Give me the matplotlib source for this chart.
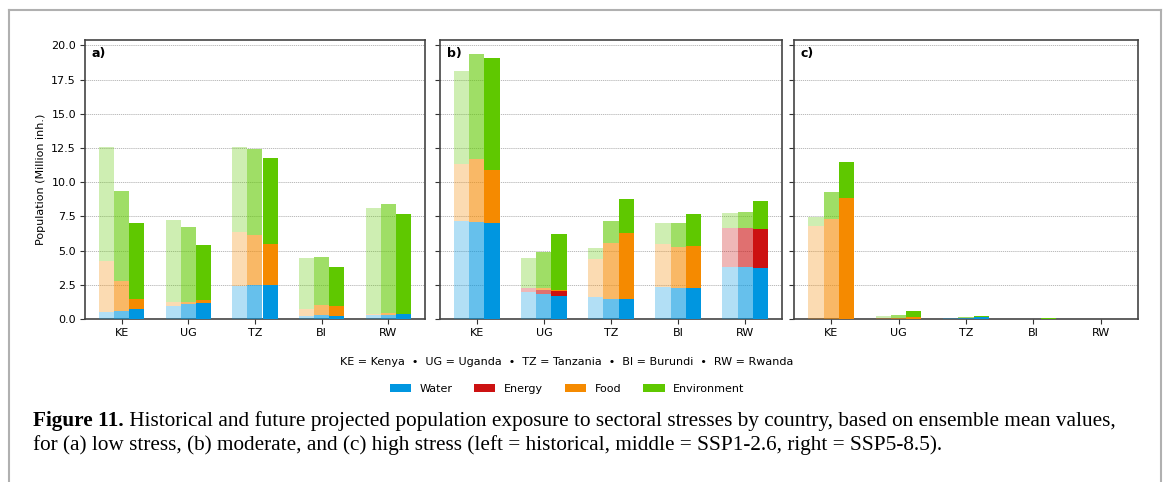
import matplotlib
matplotlib.use("Agg")
import matplotlib.pyplot as plt
import numpy as np
from matplotlib.patches import Patch
from matplotlib.lines import Line2D

countries = ["KE", "UG", "TZ", "BI", "RW"]
sectors = ["Water", "Energy", "Food", "Environment"]
scenarios = ["historical", "SSP1-2.6", "SSP5-8.5"]
panel_labels = ["a)", "b)", "c)"]
yticks = [0.0, 2.5, 5.0, 7.5, 10.0, 12.5, 15.0, 17.5, 20.0]

# segment heights (Million inh.), per country KE, UG, TZ, BI, RW
# ---- (a) low stress
a_hist_water = [0.54, 0.97, 2.39, 0.22, 0.29]
a_hist_energy = [0.0, 0.0, 0.0, 0.0, 0.0]
a_hist_food = [3.72, 0.27, 3.99, 0.54, 0.10]
a_hist_env = [8.29, 6.02, 6.17, 3.67, 7.75]
a_ssp1_water = [0.58, 1.12, 2.51, 0.29, 0.32]
a_ssp1_energy = [0.0, 0.0, 0.0, 0.0, 0.0]
a_ssp1_food = [2.17, 0.15, 3.60, 0.71, 0.09]
a_ssp1_env = [6.63, 5.43, 6.29, 3.50, 7.99]
a_ssp5_water = [0.71, 1.19, 2.51, 0.24, 0.39]
a_ssp5_energy = [0.0, 0.0, 0.0, 0.0, 0.0]
a_ssp5_food = [0.78, 0.22, 2.99, 0.71, 0.0]
a_ssp5_env = [5.55, 4.00, 6.27, 2.85, 7.31]
# ---- (b) moderate stress
b_hist_water = [7.14, 2.00, 1.61, 2.34, 3.80]
b_hist_energy = [0.0, 0.28, 0.0, 0.0, 2.87]
b_hist_food = [4.19, 0.0, 2.80, 3.14, 0.0]
b_hist_env = [6.77, 2.20, 0.80, 1.56, 1.08]
b_ssp1_water = [7.09, 1.80, 1.49, 2.24, 3.78]
b_ssp1_energy = [0.0, 0.34, 0.0, 0.0, 2.87]
b_ssp1_food = [4.58, 0.13, 4.09, 3.00, 0.0]
b_ssp1_env = [7.72, 2.65, 1.58, 1.78, 1.15]
b_ssp5_water = [7.02, 1.71, 1.46, 2.29, 3.73]
b_ssp5_energy = [0.0, 0.34, 0.0, 0.0, 2.85]
b_ssp5_food = [3.84, 0.09, 4.80, 3.04, 0.0]
b_ssp5_env = [8.24, 4.10, 2.49, 2.34, 2.07]
# ---- (c) high stress
c_hist_water = [0.0, 0.0, 0.08, 0.0, 0.0]
c_hist_energy = [0.0, 0.0, 0.0, 0.0, 0.0]
c_hist_food = [6.82, 0.04, 0.0, 0.0, 0.0]
c_hist_env = [0.63, 0.18, 0.02, 0.0, 0.0]
c_ssp1_water = [0.0, 0.0, 0.10, 0.0, 0.0]
c_ssp1_energy = [0.0, 0.0, 0.0, 0.0, 0.0]
c_ssp1_food = [7.33, 0.05, 0.0, 0.0, 0.0]
c_ssp1_env = [1.93, 0.22, 0.02, 0.0, 0.0]
c_ssp5_water = [0.0, 0.0, 0.12, 0.0, 0.0]
c_ssp5_energy = [0.0, 0.0, 0.0, 0.0, 0.0]
c_ssp5_food = [8.87, 0.12, 0.04, 0.0, 0.0]
c_ssp5_env = [2.63, 0.44, 0.04, 0.06, 0.0]

panels = [
    [[a_hist_water, a_hist_energy, a_hist_food, a_hist_env],
     [a_ssp1_water, a_ssp1_energy, a_ssp1_food, a_ssp1_env],
     [a_ssp5_water, a_ssp5_energy, a_ssp5_food, a_ssp5_env]],
    [[b_hist_water, b_hist_energy, b_hist_food, b_hist_env],
     [b_ssp1_water, b_ssp1_energy, b_ssp1_food, b_ssp1_env],
     [b_ssp5_water, b_ssp5_energy, b_ssp5_food, b_ssp5_env]],
    [[c_hist_water, c_hist_energy, c_hist_food, c_hist_env],
     [c_ssp1_water, c_ssp1_energy, c_ssp1_food, c_ssp1_env],
     [c_ssp5_water, c_ssp5_energy, c_ssp5_food, c_ssp5_env]],
]

colors = ["#0096e0", "#cc1111", "#f58a00", "#5fc800"]
alphas = [0.3, 0.6, 1.0]

W, H = 1166, 482
plt.rcParams["font.family"] = "DejaVu Sans"
fig = plt.figure(figsize=(W / 100, H / 100), dpi=100)

# figure frame (page border)
fc = "#b0b0b0"
fig.add_artist(Line2D([9 / W, 9 / W], [0, 1 - 10 / H], transform=fig.transFigure, color=fc, lw=1.5))
fig.add_artist(Line2D([9 / W, 1161 / W], [1 - 10 / H, 1 - 10 / H], transform=fig.transFigure, color=fc, lw=1.5))
fig.add_artist(Line2D([1161 / W, 1161 / W], [0, 1 - 10 / H], transform=fig.transFigure, color=fc, lw=1.5))

axes_px = [(85, 425), (440, 782), (794, 1138)]
top_px, bot_px = 40, 319
x = np.arange(len(countries))
bw = 0.225

for p, (l, r) in enumerate(axes_px):
    ax = fig.add_axes([l / W, 1 - bot_px / H, (r - l) / W, (bot_px - top_px) / H])
    for s in range(3):
        bottom = np.zeros(len(countries))
        for k in range(4):
            vals = np.array(panels[p][s][k])
            ax.bar(x + (s - 1) * bw, vals, bw, bottom=bottom, color=colors[k],
                   alpha=alphas[s], linewidth=0, zorder=3)
            bottom += vals
    ax.set_xlim(-0.55, 4.55)
    ax.set_ylim(0, 20.4)
    ax.set_yticks(yticks)
    ax.set_xticks(x)
    ax.set_xticklabels(countries, fontsize=8)
    if p == 0:
        ax.set_yticklabels([f"{v:.1f}" for v in yticks], fontsize=8)
        ax.set_ylabel("Population (Million inh.)", fontsize=8)
    else:
        ax.set_yticklabels([])
    ax.grid(axis="y", color="#b0b0b0", linestyle=(0, (1.5, 1)), linewidth=0.6, zorder=0)
    for sp in ax.spines.values():
        sp.set_color("#444444")
        sp.set_linewidth(1.2)
    ax.tick_params(length=3.5, width=0.8, color="#333333", pad=3)
    ax.text(0.02, 0.975, panel_labels[p], transform=ax.transAxes, fontsize=9,
            fontweight="bold", va="top", ha="left")

fig.text(567 / W, 1 - 362 / H, "KE = Kenya  \u2022  UG = Uganda  \u2022  TZ = Tanzania  \u2022  BI = Burundi  \u2022  RW = Rwanda",
         ha="center", va="center", fontsize=8)

handles = [Patch(facecolor=c, label=n) for c, n in zip(colors, sectors)]
fig.legend(handles=handles, loc="center", bbox_to_anchor=(567 / W, 1 - 389 / H), ncol=4,
           frameon=False, fontsize=8, handlelength=1.9, handleheight=0.75, columnspacing=2.0,
           handletextpad=0.75)

cap_font = "Liberation Serif"
cap_size = 15.3
t1 = fig.text(33 / W, 1 - 426 / H, "Figure 11.", fontsize=cap_size, fontweight="bold",
              family=cap_font, ha="left", va="baseline")
line1 = (" Historical and future projected population exposure to sectoral stresses by country, "
         "based on ensemble mean values,")
line2 = ("for (a) low stress, (b) moderate, and (c) high stress (left = historical, middle = SSP1-2.6, "
         "right = SSP5-8.5).")
fig.add_artist(matplotlib.text.Annotation(line1, xy=(1, 0), xycoords=t1, va="bottom", ha="left",
                                          fontsize=cap_size, family=cap_font, annotation_clip=False))
fig.text(33 / W, 1 - 450 / H, line2, fontsize=cap_size, family=cap_font, ha="left", va="baseline")

fig.savefig("out.png", dpi=100)
